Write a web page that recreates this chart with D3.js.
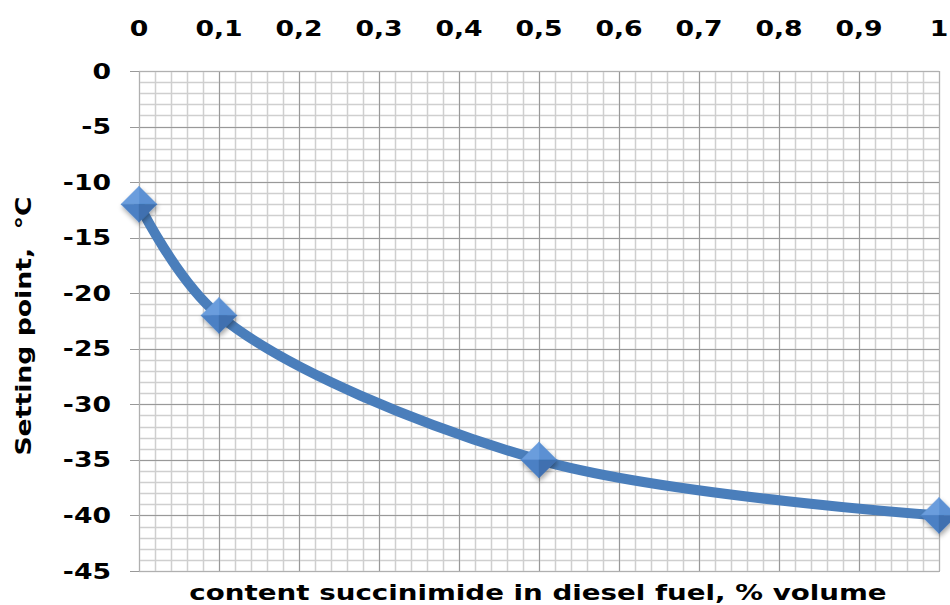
<!DOCTYPE html>
<style>
body { margin: 0; background: #fff; }
text { font-family: "DejaVu Sans", Verdana, sans-serif; font-weight: bold; }
</style>
<svg width="950" height="605" class="chart"></svg>
<script src="https://d3js.org/d3.v7.min.js"></script>
<script>

var xVals = [0, 0.1, 0.5, 1];
var yVals = [-12, -22, -35, -40];
var xTicks = [0, 0.1, 0.2, 0.3, 0.4, 0.5, 0.6, 0.7, 0.8, 0.9, 1];
var yTicks = [0, -5, -10, -15, -20, -25, -30, -35, -40, -45];

var svg = d3.select(".chart"),
    margin = {top: 71, right: 11, bottom: 34, left: 139},
    width = +svg.attr("width") - margin.left - margin.right,
    height = +svg.attr("height") - margin.top - margin.bottom,
    g = svg.append("g").attr("transform", "translate(" + margin.left + "," + margin.top + ")");

var x = d3.scaleLinear().domain([0, 1]).range([0, width]);
var y = d3.scaleLinear().domain([0, -45]).range([0, height]);

var sx = 1.27; // Verdana-like wide letters

// minor grid
g.append("g")
    .attr("stroke", "#cfcfcf")
    .attr("stroke-width", 1.5)
  .selectAll("line")
  .data(d3.range(0, 51).map(function(i) { return i / 50; }))
  .enter().append("line")
    .attr("x1", function(d) { return Math.round(x(d)) + 0.5; })
    .attr("x2", function(d) { return Math.round(x(d)) + 0.5; })
    .attr("y1", 0).attr("y2", height);

g.append("g")
    .attr("stroke", "#cfcfcf")
    .attr("stroke-width", 1.5)
  .selectAll("line")
  .data(d3.range(0, 46).map(function(i) { return -i; }))
  .enter().append("line")
    .attr("y1", function(d) { return Math.round(y(d)) + 0.5; })
    .attr("y2", function(d) { return Math.round(y(d)) + 0.5; })
    .attr("x1", 0).attr("x2", width);

// major grid
g.append("g")
    .attr("stroke", "#999")
  .selectAll("line")
  .data(xTicks)
  .enter().append("line")
    .attr("x1", function(d) { return Math.round(x(d)) + 0.5; })
    .attr("x2", function(d) { return Math.round(x(d)) + 0.5; })
    .attr("y1", 0).attr("y2", height);

g.append("g")
    .attr("stroke", "#999")
  .selectAll("line")
  .data(yTicks)
  .enter().append("line")
    .attr("y1", function(d) { return Math.round(y(d)) + 0.5; })
    .attr("y2", function(d) { return Math.round(y(d)) + 0.5; })
    .attr("x1", -9).attr("x2", width);

g.append("rect")
    .attr("x", 0.5).attr("y", 0.5)
    .attr("width", width).attr("height", height)
    .attr("fill", "none").attr("stroke", "#b0b0b0");

// top axis labels
var fmt = function(d) { return String(d).replace(".", ","); };
g.append("g").selectAll("text")
  .data(xTicks)
  .enter().append("text")
    .attr("transform", function(d) { return "translate(" + x(d) + ",-35) scale(" + sx + ",1)"; })
    .attr("text-anchor", "middle")
    .attr("font-size", 21)
    .text(fmt);

// left axis labels
g.append("g").selectAll("text")
  .data(yTicks)
  .enter().append("text")
    .attr("transform", function(d) { return "translate(-28," + y(d) + ") scale(" + sx + ",1)"; })
    .attr("dy", "0.36em")
    .attr("text-anchor", "end")
    .attr("font-size", 21)
    .text(function(d) { return d === 0 ? "0" : "-" + Math.abs(d); });

// axis titles
svg.append("text")
    .attr("transform", "translate(31,326) rotate(-90) scale(" + sx + ",1)")
    .attr("text-anchor", "middle")
    .attr("font-size", 21)
    .attr("xml:space", "preserve")
    .text("Setting point,  °C");

svg.append("text")
    .attr("transform", "translate(538,600) scale(" + (sx + 0.05) + ",1)")
    .attr("text-anchor", "middle")
    .attr("font-size", 21)
    .text("content succinimide in diesel fuel, % volume");

// line
var data = xVals.map(function(d, i) { return {x: d, y: yVals[i]}; });
var line = d3.line()
    .x(function(d) { return x(d.x); })
    .y(function(d) { return y(d.y); })
    .curve(d3.curveCatmullRom.alpha(0.5));

var defs = svg.append("defs");
var sh = defs.append("filter").attr("id", "sh").attr("x", "-50%").attr("y", "-50%").attr("width", "200%").attr("height", "200%");
sh.append("feGaussianBlur").attr("in", "SourceAlpha").attr("stdDeviation", 2.5);
sh.append("feOffset").attr("dx", 1).attr("dy", 3).attr("result", "b");
sh.append("feComponentTransfer").append("feFuncA").attr("type", "linear").attr("slope", 0.35);
var mg = sh.append("feMerge");
mg.append("feMergeNode");
mg.append("feMergeNode").attr("in", "SourceGraphic");

g.append("path")
    .datum(data)
    .attr("fill", "none")
    .attr("stroke", "#4a7ebb")
    .attr("stroke-width", 10)
    .attr("stroke-linecap", "round")
    .attr("d", line);

// diamond markers with bevel shading
var r = 18;
var facets = [
  {pts: [[0, -r], [r, 0], [0, 0]], fill: "#5b90d3"},
  {pts: [[0, -r], [-r, 0], [0, 0]], fill: "#6a9ddd"},
  {pts: [[-r, 0], [0, r], [0, 0]], fill: "#4c80c4"},
  {pts: [[r, 0], [0, r], [0, 0]], fill: "#3f70b0"}
];
var mk = g.append("g").selectAll("g")
  .data(data)
  .enter().append("g")
    .attr("transform", function(d) { return "translate(" + x(d.x) + "," + y(d.y) + ")"; })
    .attr("filter", "url(#sh)");

mk.selectAll("path")
  .data(facets)
  .enter().append("path")
    .attr("d", function(f) { return "M" + f.pts.join("L") + "Z"; })
    .attr("fill", function(f) { return f.fill; })
    .attr("stroke", function(f) { return f.fill; })
    .attr("stroke-width", 0.5);

</script>
